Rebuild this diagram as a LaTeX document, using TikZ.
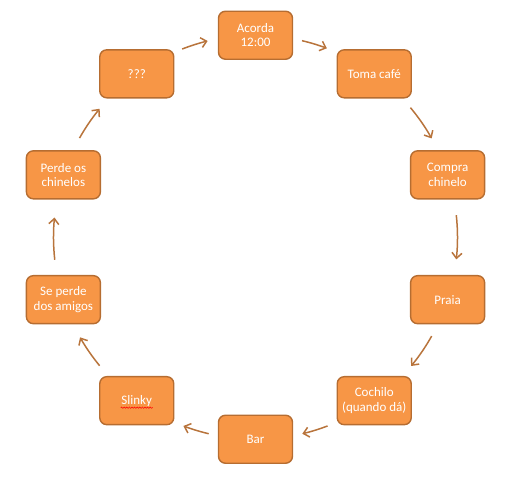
\documentclass[tikz,border=0pt]{standalone}
\usepackage{fontspec}
\setmainfont{Carlito}
\usetikzlibrary{arrows.meta,decorations.pathmorphing,calc}
\definecolor{boxfill}{HTML}{F79646}
\definecolor{boxline}{HTML}{B66D31}
\definecolor{arrcol}{HTML}{B8743C}
\tikzset{
  cyclebox/.style={draw=boxline, fill=boxfill, line width=1.4pt, rounded corners=7pt,
    minimum width=74pt, minimum height=48pt, inner sep=1pt, align=center,
    text=white, font=\fontsize{13}{14.5}\selectfont},
  arcarrow/.style={draw=arrcol, line width=1.5pt,
    -{Straight Barb[length=5.5pt,width=10pt,line width=1.5pt]}},
}
\begin{document}
\begin{tikzpicture}[x=1pt,y=1pt]
\useasboundingbox (0,0) rectangle (514,478);
\coordinate (c) at (255.5,240.75);
\node[cyclebox] (n1) at ($(c)+(90:202)$) {Acorda\\12:00};
\node[cyclebox] (n2) at ($(c)+(54:202)$) {Toma café};
\node[cyclebox] (n3) at ($(c)+(18:202)$) {Compra\\chinelo};
\node[cyclebox] (n4) at ($(c)+(-18:202)$) {Praia};
\node[cyclebox] (n5) at ($(c)+(-54:202)$) {Cochilo\\(quando dá)};
\node[cyclebox] (n6) at ($(c)+(-90:202)$) {Bar};
\node[cyclebox] (n7) at ($(c)+(-126:202)$) {Slinky};
\node[cyclebox] (n8) at ($(c)+(-162:202)$) {Se perde\\dos amigos};
\node[cyclebox] (n9) at ($(c)+(162:202)$) {Perde os\\chinelos};
\node[cyclebox] (n10) at ($(c)+(126:202)$) {???};
% spell-check underline under Slinky
\draw[red, line width=0.5pt, decorate, decoration={snake, amplitude=0.7pt, segment length=2.6pt}]
  ([xshift=-16pt,yshift=-7pt]n7.center) -- ([xshift=16pt,yshift=-7pt]n7.center);
% arc arrows along the cycle
\foreach \s/\e in {111.3/103.7, 76.7/69.3, 39.9/29.3, 6.3/-6.3, -29.3/-39.6,
                   -69.1/-76.6, -103.4/-110.9, 219.5/209.7, 186.4/174.4, 150.6/140.5}{
  \coordinate (as) at ($(c)+(\s:202)$);
  \draw[arcarrow] (as) arc[start angle=\s, end angle=\e, radius=202];
}
\end{tikzpicture}
\end{document}
